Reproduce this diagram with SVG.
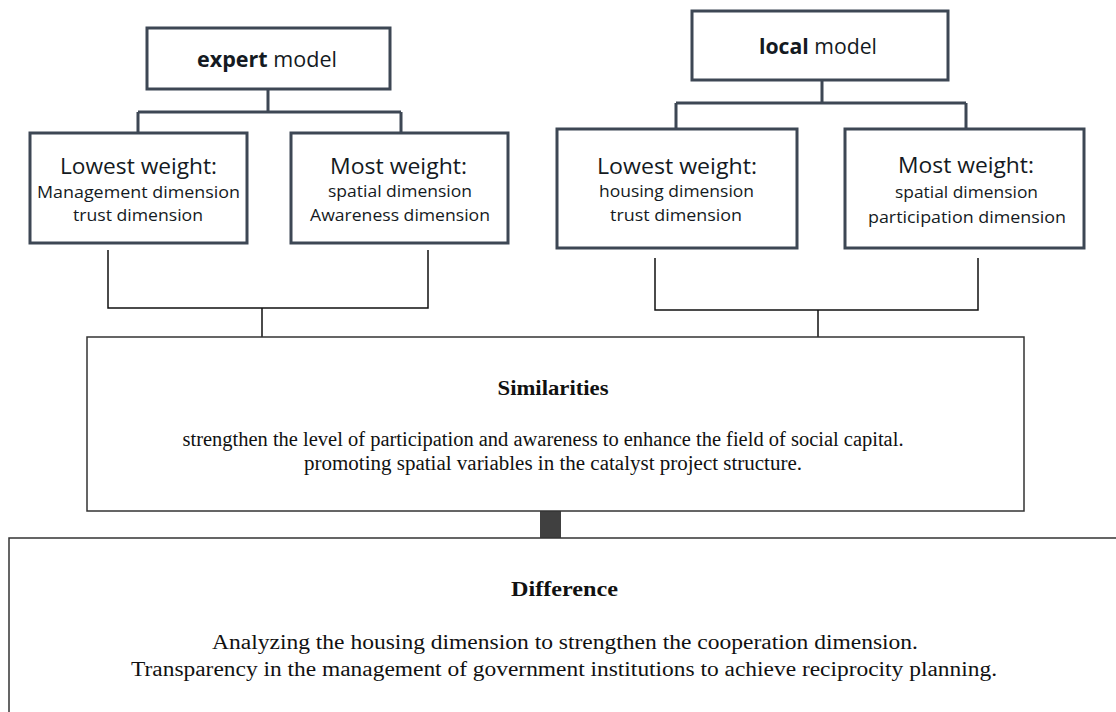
<svg xmlns="http://www.w3.org/2000/svg" width="1116" height="712" viewBox="0 0 1116 712">
  <style>
    .box { fill: #ffffff; stroke: #3d4754; stroke-width: 3; }
    .wide { fill: #ffffff; stroke: #333333; stroke-width: 1.5; }
    .tree { fill: none; stroke: #3d4754; stroke-width: 3; }
    .join { fill: none; stroke: #111111; stroke-width: 1.5; }
    .hd { font-family: "Open Sans", "Noto Sans", sans-serif; font-size: 21px; fill: #141a22; text-anchor: middle; }
    .sub { font-family: "Open Sans", "Noto Sans", sans-serif; font-size: 15.5px; fill: #141a22; text-anchor: middle; }
    .ttl { font-family: "Liberation Serif", serif; font-size: 22px; font-weight: bold; fill: #111; text-anchor: middle; }
    .body { font-family: "Liberation Serif", serif; font-size: 20.5px; fill: #111; text-anchor: middle; }
  </style>

  <!-- connectors -->
  <g id="connectors">
    <path class="tree" d="M268 89 V112 M138 112 H401 M138 112 V133 M401 112 V133"/>
    <path class="tree" d="M822 80 V103 M676 103 H966 M676 103 V129 M966 103 V129"/>
    <path class="join" d="M108 250 V308 H428 V250 M262 308 V337"/>
    <path class="join" d="M655 258 V310 H978 V258 M818 310 V337"/>
    <rect x="540" y="511" width="21" height="27" fill="#404040"/>
  </g>

  <g id="expert-model">
    <rect class="box" x="147" y="28" width="243" height="61"/>
    <text class="hd" x="267" y="67" textLength="140" lengthAdjust="spacingAndGlyphs"><tspan font-weight="bold">expert</tspan> model</text>
  </g>
  <g id="expert-lowest">
    <rect class="box" x="30" y="133" width="217" height="110"/>
    <text class="hd" x="138.5" y="174" textLength="157" lengthAdjust="spacingAndGlyphs">Lowest weight:</text>
    <text class="sub" x="138.5" y="198" textLength="203" lengthAdjust="spacingAndGlyphs">Management dimension</text>
    <text class="sub" x="138" y="221" textLength="130" lengthAdjust="spacingAndGlyphs">trust dimension</text>
  </g>
  <g id="expert-most">
    <rect class="box" x="291" y="133" width="217" height="110"/>
    <text class="hd" x="398.5" y="174" textLength="137" lengthAdjust="spacingAndGlyphs">Most weight:</text>
    <text class="sub" x="400" y="197" textLength="144" lengthAdjust="spacingAndGlyphs">spatial dimension</text>
    <text class="sub" x="400" y="221" textLength="180" lengthAdjust="spacingAndGlyphs">Awareness dimension</text>
  </g>

  <g id="local-model">
    <rect class="box" x="692" y="11" width="256" height="69"/>
    <text class="hd" x="818" y="54" textLength="118" lengthAdjust="spacingAndGlyphs"><tspan font-weight="bold">local</tspan> model</text>
  </g>
  <g id="local-lowest">
    <rect class="box" x="557" y="129" width="240" height="119"/>
    <text class="hd" x="677" y="174" textLength="160" lengthAdjust="spacingAndGlyphs">Lowest weight:</text>
    <text class="sub" x="676.5" y="197" textLength="155" lengthAdjust="spacingAndGlyphs">housing dimension</text>
    <text class="sub" x="676" y="221" textLength="132" lengthAdjust="spacingAndGlyphs">trust dimension</text>
  </g>
  <g id="local-most">
    <rect class="box" x="845" y="129" width="239" height="119"/>
    <text class="hd" x="966" y="173" textLength="136" lengthAdjust="spacingAndGlyphs">Most weight:</text>
    <text class="sub" x="966.5" y="198" textLength="143" lengthAdjust="spacingAndGlyphs">spatial dimension</text>
    <text class="sub" x="967" y="223" textLength="198" lengthAdjust="spacingAndGlyphs">participation dimension</text>
  </g>

  <g id="similarities">
    <rect class="wide" x="87" y="337" width="937" height="174"/>
    <text class="ttl" x="553" y="395" textLength="111" lengthAdjust="spacingAndGlyphs">Similarities</text>
    <text class="body" x="543" y="446" textLength="721" lengthAdjust="spacingAndGlyphs">strengthen the level of participation and awareness to enhance the field of social capital.</text>
    <text class="body" x="553" y="470" textLength="498" lengthAdjust="spacingAndGlyphs">promoting spatial variables in the catalyst project structure.</text>
  </g>

  <g id="difference">
    <rect class="wide" x="9" y="538" width="1120" height="190"/>
    <text class="ttl" x="564.5" y="596" textLength="107" lengthAdjust="spacingAndGlyphs">Difference</text>
    <text class="body" x="565" y="649" textLength="706" lengthAdjust="spacingAndGlyphs">Analyzing the housing dimension to strengthen the cooperation dimension.</text>
    <text class="body" x="564" y="676" textLength="866" lengthAdjust="spacingAndGlyphs">Transparency in the management of government institutions to achieve reciprocity planning.</text>
  </g>
</svg>
